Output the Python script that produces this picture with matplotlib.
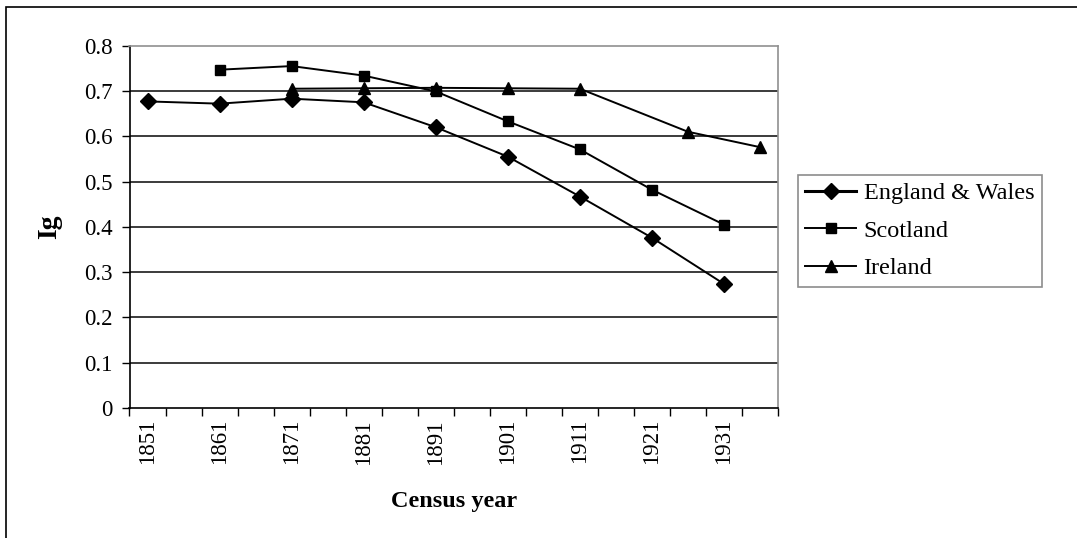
"""
Ig by census year: England & Wales, Scotland, Ireland
"""

import matplotlib
matplotlib.use("Agg")
import matplotlib.pyplot as plt
from matplotlib.patches import Rectangle
from matplotlib.ticker import FixedLocator

# data
ew_years = [1851, 1861, 1871, 1881, 1891, 1901, 1911, 1921, 1931]
ew_ig = [0.677, 0.672, 0.683, 0.675, 0.620, 0.555, 0.467, 0.376, 0.274]

sc_years = [1861, 1871, 1881, 1891, 1901, 1911, 1921, 1931]
sc_ig = [0.747, 0.755, 0.734, 0.699, 0.633, 0.571, 0.482, 0.405]

ir_years = [1871, 1881, 1891, 1901, 1911, 1926, 1936]
ir_ig = [0.705, 0.706, 0.707, 0.706, 0.705, 0.610, 0.576]

tick_years = [1851, 1861, 1871, 1881, 1891, 1901, 1911, 1921, 1931]

plt.rcParams['font.family'] = ['Liberation Serif', 'DejaVu Serif']

W, H = 1077, 538
fig = plt.figure(figsize=(W / 100, H / 100), dpi=100)
ax = fig.add_axes([129.5 / W, 1 - 408 / H, (778 - 129.5) / W, (408 - 45.7) / H])

ax.plot(ew_years, ew_ig, '-', color='black', linewidth=1.4,
        marker='D', markersize=8, label='England & Wales', zorder=3)
ax.plot(sc_years, sc_ig, '-', color='black', linewidth=1.4,
        marker='s', markersize=7.5, label='Scotland', zorder=3)
ax.plot(ir_years, ir_ig, '-', color='black', linewidth=1.4,
        marker='^', markersize=8.5, label='Ireland', zorder=3)

# axes: 5-year categories, labels every 10 years
ax.set_xlim(1848.5, 1938.5)
ax.set_ylim(0, 0.8)
ax.set_xticks(tick_years)
ax.set_xticklabels([str(y) for y in tick_years], rotation=90, fontsize=16.5)
ax.xaxis.set_minor_locator(FixedLocator([1848.5 + 5 * i for i in range(19)]))
ax.tick_params(axis='x', which='major', length=0, pad=8)
ax.tick_params(axis='x', which='minor', length=6, width=1, color='black', direction='out')
ax.set_yticks([0, 0.1, 0.2, 0.3, 0.4, 0.5, 0.6, 0.7, 0.8])
ax.set_yticklabels(['0', '0.1', '0.2', '0.3', '0.4', '0.5', '0.6', '0.7', '0.8'], fontsize=16.5)
ax.tick_params(axis='y', length=6, width=1, direction='out', pad=6)

for v in [0.1, 0.2, 0.3, 0.4, 0.5, 0.6, 0.7]:
    ax.axhline(v, color='#1a1a1a', linewidth=1.2, zorder=1)

ax.spines['left'].set_color('black')
ax.spines['bottom'].set_color('black')
ax.spines['top'].set_color('#909090')
ax.spines['right'].set_color('#909090')
for s in ax.spines.values():
    s.set_linewidth(1.2)

ax.set_xlabel('Census year', fontsize=17.5, fontweight='bold', labelpad=19)
ax.set_ylabel('Ig', fontsize=20, fontweight='bold', labelpad=16)

leg = fig.legend(loc='upper left', bbox_to_anchor=(798 / W, 1 - 175 / H),
                 fontsize=17.5, frameon=True, fancybox=False, borderaxespad=0,
                 handlelength=2.1, handletextpad=0.3, labelspacing=0.64,
                 borderpad=0.3)
leg.get_frame().set_edgecolor('#707070')
leg.get_frame().set_linewidth(1.2)
leg.get_lines()[0].set_linewidth(2.2)

# outer frame of the chart
fig.add_artist(Rectangle((6 / W, -1), 2, 2 - 7 / H, transform=fig.transFigure,
                         fill=False, edgecolor='black', linewidth=1.2, clip_on=False))

fig.savefig('out.png', dpi=100)
